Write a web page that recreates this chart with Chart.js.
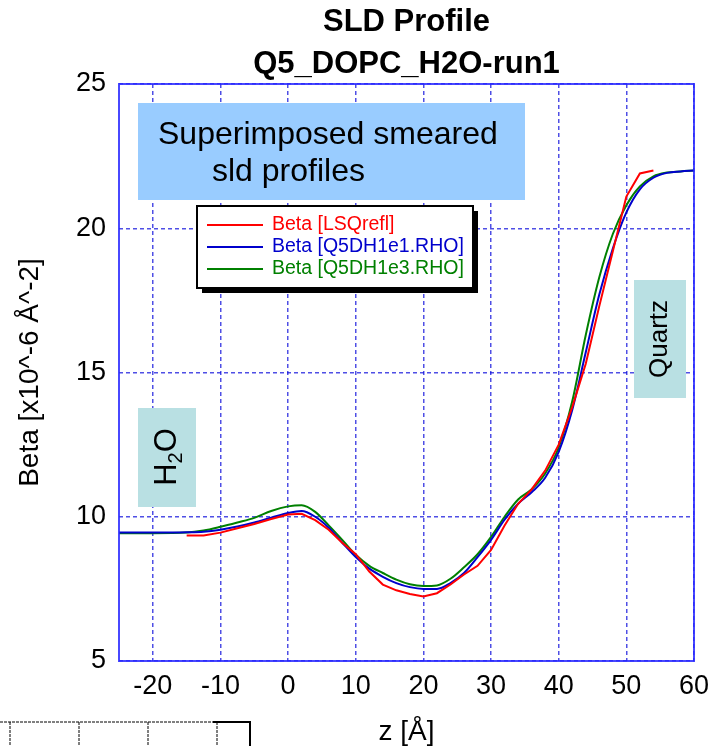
<!DOCTYPE html>
<html>
<head>
<meta charset="utf-8">
<script src="https://cdn.jsdelivr.net/npm/chart.js@4.4.1/dist/chart.umd.min.js"></script>
<style>
  html, body { margin: 0; padding: 0; background: #fff; }
</style>
</head>
<body>
<canvas id="sld" width="713" height="746"></canvas>
<script>
// z positions [Å] and smeared SLD profiles (Beta, x10^-6 Å^-2)
const zValues = [-25, -20, -15, -12.5, -10, -7.5, -5, -2.5, 0, 2, 4, 6, 8, 10, 12, 14, 16, 18, 20,
  22, 24, 26, 28, 30, 32, 34, 36, 38, 40, 42, 44, 46, 48, 50, 52, 54, 56, 58, 60];
const betaLSQ = [null, null, 9.35, 9.35, 9.45, 9.6, 9.75, 9.92, 10.08, 10.1, 9.88, 9.55, 9.1, 8.7, 8.1, 7.65, 7.45, 7.32, 7.24,
  7.35, 7.65, 8.0, 8.3, 8.85, 9.7, 10.45, 10.95, 11.6, 12.5, 13.8, 15.3, 17.3, 19.2, 21.1, 21.9, 22.0, null, null, null];
const betaE1 = [9.45, 9.45, 9.46, 9.48, 9.55, 9.66, 9.8, 9.97, 10.13, 10.2, 10.0, 9.62, 9.1, 8.6, 8.2, 7.92, 7.7, 7.56, 7.5,
  7.5, 7.7, 8.05, 8.6, 9.2, 9.9, 10.45, 10.85, 11.35, 12.25, 13.7, 15.7, 17.7, 19.3, 20.55, 21.35, 21.75, 21.92, 21.97, 22.0];
const betaE3 = [9.43, 9.43, 9.45, 9.52, 9.65, 9.8, 9.96, 10.2, 10.36, 10.4, 10.17, 9.7, 9.2, 8.68, 8.3, 8.05, 7.82, 7.66, 7.6,
  7.62, 7.85, 8.25, 8.7, 9.3, 10.0, 10.6, 10.95, 11.5, 12.4, 14.0, 16.3, 18.3, 19.8, 20.8, 21.45, 21.8, 21.93, 21.97, 22.0];

const xTicks = [-20, -10, 0, 10, 20, 30, 40, 50, 60];
const yTicks = [5, 10, 15, 20, 25];
const seriesNames = ['Beta [LSQrefl]', 'Beta [Q5DH1e1.RHO]', 'Beta [Q5DH1e3.RHO]'];
const seriesColors = ['#ff0000', '#0000cc', '#008000'];
const titleLines = ['SLD Profile', 'Q5_DOPC_H2O-run1'];

const FONT = "'Liberation Sans', Arial, sans-serif";
const gridColor = 'rgba(20, 20, 220, 0.75)';

const toPoints = (ys) => zValues.map((z, i) => ({ x: z, y: ys[i] }));

// titles, annotation boxes, plot frame and the legend panel
const decorations = {
  id: 'decorations',
  beforeDatasetsDraw(chart) {
    const { ctx } = chart;
    ctx.save();

    // "Superimposed smeared sld profiles" note
    ctx.fillStyle = '#99ccff';
    ctx.fillRect(138, 103, 387, 97);
    ctx.fillStyle = '#000';
    ctx.font = '32px ' + FONT;
    ctx.textBaseline = 'middle';
    ctx.textAlign = 'left';
    ctx.fillText('Superimposed smeared', 158, 135);
    ctx.fillText('sld profiles', 212, 172);

    // H2O label
    ctx.fillStyle = '#b9e0e3';
    ctx.fillRect(138, 408, 58, 99);
    ctx.save();
    ctx.translate(167, 457);
    ctx.rotate(-Math.PI / 2);
    ctx.fillStyle = '#000';
    ctx.font = '31px ' + FONT;
    const wH = ctx.measureText('H').width;
    ctx.font = '20px ' + FONT;
    const w2 = ctx.measureText('2').width;
    ctx.font = '31px ' + FONT;
    const wO = ctx.measureText('O').width;
    let tx = -(wH + w2 + wO) / 2;
    ctx.textBaseline = 'middle';
    ctx.fillText('H', tx, 0);
    tx += wH;
    ctx.font = '20px ' + FONT;
    ctx.fillText('2', tx, 9);
    tx += w2;
    ctx.font = '31px ' + FONT;
    ctx.fillText('O', tx, 0);
    ctx.restore();

    // Quartz label
    ctx.fillStyle = '#b9e0e3';
    ctx.fillRect(634, 280, 52, 118);
    ctx.save();
    ctx.translate(660, 339);
    ctx.rotate(-Math.PI / 2);
    ctx.fillStyle = '#000';
    ctx.font = '26px ' + FONT;
    ctx.textAlign = 'center';
    ctx.textBaseline = 'middle';
    ctx.fillText('Quartz', 0, 0);
    ctx.restore();

    ctx.restore();
  },
  afterDraw(chart) {
    const { ctx, chartArea: a } = chart;
    ctx.save();

    // plot frame
    ctx.strokeStyle = 'rgba(40, 40, 255, 0.85)';
    ctx.lineWidth = 2;
    ctx.strokeRect(a.left, a.top, a.right - a.left, a.bottom - a.top);

    // titles
    ctx.fillStyle = '#000';
    ctx.font = 'bold 31px ' + FONT;
    ctx.textAlign = 'center';
    ctx.textBaseline = 'alphabetic';
    const cx = (a.left + a.right) / 2;
    ctx.fillText(titleLines[0], cx, 31);
    ctx.fillText(titleLines[1], cx, 73);

    // legend panel with drop shadow
    const lx = 197, ly = 206, lw = 276, lh = 82;
    ctx.fillStyle = '#000';
    ctx.fillRect(lx + 5, ly + 5, lw, lh);
    ctx.fillStyle = '#fff';
    ctx.fillRect(lx, ly, lw, lh);
    ctx.strokeStyle = '#000';
    ctx.lineWidth = 2;
    ctx.strokeRect(lx, ly, lw, lh);
    ctx.font = '19.5px ' + FONT;
    ctx.textAlign = 'left';
    ctx.textBaseline = 'middle';
    chart.data.datasets.forEach((ds, i) => {
      const ry = 225 + i * 22;
      ctx.strokeStyle = ds.borderColor;
      ctx.lineWidth = 2;
      ctx.beginPath();
      ctx.moveTo(207, ry);
      ctx.lineTo(263, ry);
      ctx.stroke();
      ctx.fillStyle = ds.borderColor;
      ctx.fillText(ds.label, 272, ry);
    });

    // lower-left frame fragment
    ctx.strokeStyle = '#000';
    ctx.lineWidth = 1;
    ctx.setLineDash([3, 1]);
    ctx.beginPath();
    ctx.moveTo(0, 722);
    ctx.lineTo(250, 722);
    [10, 79, 148, 217].forEach((x) => {
      ctx.moveTo(x, 722);
      ctx.lineTo(x, 746);
    });
    ctx.stroke();
    ctx.setLineDash([]);
    ctx.lineWidth = 2;
    ctx.beginPath();
    ctx.moveTo(213, 722);
    ctx.lineTo(251, 722);
    ctx.moveTo(250, 722);
    ctx.lineTo(250, 746);
    ctx.stroke();

    ctx.restore();
  }
};

new Chart(document.getElementById('sld'), {
  type: 'line',
  data: {
    datasets: [
      { label: seriesNames[0], data: toPoints(betaLSQ), borderColor: seriesColors[0], tension: 0 },
      { label: seriesNames[1], data: toPoints(betaE1), borderColor: seriesColors[1], cubicInterpolationMode: 'monotone' },
      { label: seriesNames[2], data: toPoints(betaE3), borderColor: seriesColors[2], cubicInterpolationMode: 'monotone' }
    ]
  },
  options: {
    responsive: false,
    animation: false,
    layout: { padding: { top: 84, right: 19, left: 0, bottom: 0 } },
    elements: {
      point: { radius: 0 },
      line: { borderWidth: 2, fill: false }
    },
    plugins: {
      legend: { display: false },
      title: { display: false },
      tooltip: { enabled: false }
    },
    scales: {
      x: {
        type: 'linear',
        min: -25,
        max: 60,
        afterBuildTicks: (scale) => { scale.ticks = xTicks.map((v) => ({ value: v })); },
        afterFit: (scale) => {
          scale.height = 85;
          scale.paddingLeft = 0;
          scale.paddingRight = 0;
        },
        grid: { color: gridColor, lineWidth: 1.5, drawTicks: false },
        border: { display: false, dash: [4, 3] },
        ticks: { color: '#000', padding: 9, font: { family: FONT, size: 27 } },
        title: {
          display: true,
          text: 'z [Å]',
          color: '#000',
          padding: 0,
          font: { family: FONT, size: 28, lineHeight: 1 }
        }
      },
      y: {
        min: 5,
        max: 25,
        afterBuildTicks: (scale) => { scale.ticks = yTicks.map((v) => ({ value: v })); },
        afterFit: (scale) => {
          scale.width = 119;
          scale.paddingTop = 0;
          scale.paddingBottom = 0;
        },
        grid: { color: gridColor, lineWidth: 1.5, drawTicks: false },
        border: { display: false, dash: [4, 3] },
        ticks: { color: '#000', padding: 13, font: { family: FONT, size: 27 } },
        title: {
          display: true,
          text: 'Beta [x10^-6 Å^-2]',
          color: '#000',
          padding: { top: 13, bottom: 0 },
          font: { family: FONT, size: 28 }
        }
      }
    }
  },
  plugins: [decorations]
});
</script>
</body>
</html>
